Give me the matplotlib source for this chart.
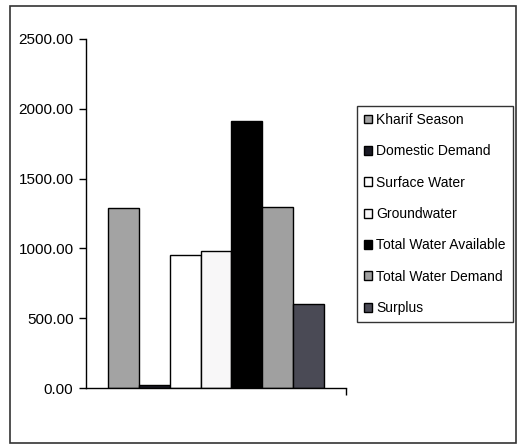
import matplotlib
matplotlib.use("Agg")
import matplotlib.pyplot as plt
from matplotlib.patches import Rectangle
import numpy as np

plt.rcParams['font.family'] = ['Liberation Sans Narrow', 'Liberation Sans', 'DejaVu Sans']

series = ["Kharif Season", "Domestic Demand", "Surface Water", "Groundwater",
          "Total Water Available", "Total Water Demand", "Surplus"]
values = [1290, 25, 950, 978, 1910, 1300, 600]
colors = ["#a3a3a3", "#1a1a24", "#ffffff", "#f8f7f8", "#000000", "#a0a0a0", "#4a4a55"]
yticks = [0, 500, 1000, 1500, 2000, 2500]

fig = plt.figure(figsize=(5.18, 4.46), dpi=100)
W, H = 518, 446
ax = fig.add_axes([86 / W, 1 - 388 / H, 260 / W, 349 / H])

x = np.arange(len(values))
for i, (v, c, s) in enumerate(zip(values, colors, series)):
    ax.bar(x[i], v, width=1.0, color=c, edgecolor="black", linewidth=1.0, label=s)

ax.set_xlim(-1.22, 7.22)
ax.set_ylim(0, 2500)
ax.set_yticks(yticks)
ax.set_yticklabels([f"{t:.2f}" for t in yticks], fontsize=11)
ax.set_xticks([7.22])
ax.set_xticklabels([""])
ax.tick_params(axis='x', direction='out', length=5, width=1, color='black')
ax.tick_params(axis='y', direction='out', length=5, width=1, color='black', pad=4)
for s in ['top', 'right']:
    ax.spines[s].set_visible(False)
for s in ['left', 'bottom']:
    ax.spines[s].set_linewidth(1.0)
    ax.spines[s].set_color('black')

handles, labels = ax.get_legend_handles_labels()
leg = fig.legend(handles, labels, loc='upper left',
                 bbox_to_anchor=(357 / W, 1 - 106 / H),
                 fontsize=10, frameon=True, fancybox=False,
                 handlelength=0.6, handleheight=0.6, handletextpad=0.3,
                 labelspacing=1.25, borderpad=0.5, borderaxespad=0)
leg.get_frame().set_edgecolor('black')
leg.get_frame().set_linewidth(1.0)

fig.patches.append(Rectangle((10 / W, 1 - 443 / H), 506 / W, 437 / H,
                             transform=fig.transFigure, fill=False,
                             edgecolor='#333333', linewidth=1.2))

fig.savefig("out.png", dpi=100)
